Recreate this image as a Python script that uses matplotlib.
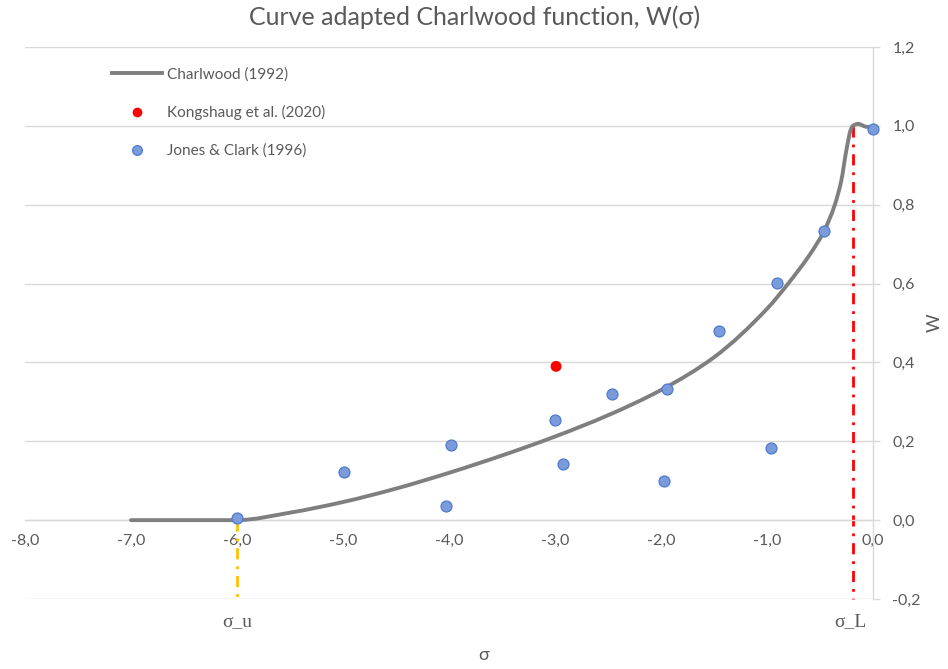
import numpy as np
import matplotlib
matplotlib.use("Agg")
import matplotlib.pyplot as plt
from matplotlib.path import Path
from matplotlib.patches import PathPatch
from matplotlib.lines import Line2D
from matplotlib.ticker import FuncFormatter, MultipleLocator

# Charlwood (1992) curve, sampled points (sigma, W)
curve_sigma = [-7.0, -6.0, -5.5, -5.0, -4.5, -4.0, -3.5, -3.0, -2.5, -2.0,
               -1.5, -1.0, -0.8, -0.6, -0.46, -0.36, -0.3, -0.25, -0.21,
               -0.19, -0.14, -0.07, 0.0]
curve_w = [0.0, 0.0, 0.019, 0.046, 0.080, 0.120, 0.164, 0.212, 0.266, 0.330,
           0.413, 0.536, 0.600, 0.672, 0.734, 0.800, 0.860, 0.940, 0.990,
           1.0, 1.005, 0.998, 0.996]

# Kongshaug et al. (2020)
kong_sigma = [-2.99]
kong_w = [0.390]

# Jones & Clark (1996)
jones_sigma = [-6.0, -4.99, -3.98, -4.03, -3.0, -2.92, -2.46, -1.94, -1.97,
               -1.45, -0.91, -0.965, -0.46, 0.0]
jones_w = [0.006, 0.121, 0.191, 0.036, 0.255, 0.143, 0.321, 0.332, 0.099,
           0.480, 0.602, 0.184, 0.734, 0.992]

sigma_u = -6.0
sigma_L = -0.19

W_PX, H_PX = 948, 669
fig = plt.figure(figsize=(W_PX / 100, H_PX / 100), dpi=100)
fig.patch.set_facecolor("white")

def fx(px):
    return px / W_PX

def fy(py):
    return 1 - py / H_PX

ax = fig.add_axes([fx(25), fy(599), fx(873) - fx(25), fy(47) - fy(599)])
ax.set_xlim(-8, 0)
ax.set_ylim(-0.2, 1.2)

text_col = "#595959"
grid_col = "#d9d9d9"
font = "Lato"

# gridlines
ax.yaxis.set_major_locator(MultipleLocator(0.2))
ax.xaxis.set_major_locator(MultipleLocator(1.0))
ax.grid(axis="y", color=grid_col, lw=1.0, zorder=0)
ax.set_axisbelow(True)

for s in ["top", "left"]:
    ax.spines[s].set_visible(False)
ax.spines["right"].set_color(grid_col)
ax.spines["right"].set_linewidth(1.0)
ax.spines["bottom"].set_position(("data", 0))
ax.spines["bottom"].set_color(grid_col)
ax.spines["bottom"].set_linewidth(1.0)

comma = FuncFormatter(lambda v, p: f"{v:.1f}".replace(".", ",").replace("-0,0", "0,0"))
ax.xaxis.set_major_formatter(comma)
ax.yaxis.set_major_formatter(comma)
ax.yaxis.tick_right()
ax.tick_params(axis="y", length=5, width=1, color=grid_col, pad=9,
               labelsize=11.5, labelcolor=text_col)
ax.tick_params(axis="x", length=0, pad=10, labelsize=11.5, labelcolor=text_col)
for lab in ax.get_xticklabels() + ax.get_yticklabels():
    lab.set_fontfamily(font)

# smooth curve through the sampled points: monotone cubic Hermite
# segments written as cubic Bezier pieces
xs = np.asarray(curve_sigma, float)
ys = np.asarray(curve_w, float)
h = np.diff(xs)
d = np.diff(ys) / h
m = np.zeros_like(xs)
m[0], m[-1] = d[0], d[-1]
for i in range(1, len(xs) - 1):
    if d[i - 1] * d[i] > 0:
        w1 = 2 * h[i] + h[i - 1]
        w2 = h[i] + 2 * h[i - 1]
        m[i] = (w1 + w2) / (w1 / d[i - 1] + w2 / d[i])
verts = [(xs[0], ys[0])]
codes = [Path.MOVETO]
for i in range(len(xs) - 1):
    verts += [(xs[i] + h[i] / 3, ys[i] + m[i] * h[i] / 3),
              (xs[i + 1] - h[i] / 3, ys[i + 1] - m[i + 1] * h[i] / 3),
              (xs[i + 1], ys[i + 1])]
    codes += [Path.CURVE4] * 3
ax.add_patch(PathPatch(Path(verts, codes), facecolor="none", edgecolor="#7f7f7f",
                       lw=2.8, capstyle="round", joinstyle="round", zorder=3))

# sigma_u and sigma_L markers
dashdot = (0, (4, 2.5, 1, 2.5))
ax.plot([sigma_u, sigma_u], [0, -0.2], color="#ffc000", lw=2, ls=dashdot, zorder=2,
        clip_on=False)
ax.plot([sigma_L, sigma_L], [1.0, -0.2], color="#ff0000", lw=2, ls=dashdot, zorder=2,
        clip_on=False)

ax.scatter(jones_sigma, jones_w, s=62, color="#7b9bdb", edgecolors="#4f7bd0",
           linewidths=0.9, zorder=4, clip_on=False)
ax.scatter(kong_sigma, kong_w, s=62, color="#ff0000", edgecolors="none", zorder=4,
           clip_on=False)

handles = [
    Line2D([], [], color="#7f7f7f", lw=2.8),
    Line2D([], [], ls="none", marker="o", markersize=7, color="#ff0000",
           markeredgecolor="none"),
    Line2D([], [], ls="none", marker="o", markersize=7, color="#7b9bdb",
           markeredgecolor="#4f7bd0", markeredgewidth=0.9),
]
labels = ["Charlwood (1992)", "Kongshaug et al. (2020)", "Jones & Clark (1996)"]
leg = fig.legend(handles, labels, loc="upper left",
                 bbox_to_anchor=(fx(112), fy(67)), bbox_transform=fig.transFigure,
                 frameon=False, borderpad=0, borderaxespad=0, handlelength=3.3,
                 handletextpad=0.32, labelspacing=1.55,
                 prop={"family": font, "size": 11})
for t in leg.get_texts():
    t.set_color(text_col)

fig.text(fx(475), fy(17), "Curve adapted Charlwood function, W(σ)", ha="center",
         va="center", fontsize=18, color=text_col, family=font)
fig.text(fx(484), fy(655), "σ", ha="center", va="center", fontsize=13,
         color=text_col, family=font)
fig.text(fx(935), fy(323), "W", ha="center", va="center", fontsize=13,
         color=text_col, family=font, rotation=90)
fig.text(fx(237), fy(622), "σ_u", ha="center", va="center", fontsize=14,
         color=text_col, family="Liberation Serif")
fig.text(fx(850), fy(622), "σ_L", ha="center", va="center", fontsize=14,
         color=text_col, family="Liberation Serif")

fig.savefig("out.png", dpi=100, facecolor="white")
